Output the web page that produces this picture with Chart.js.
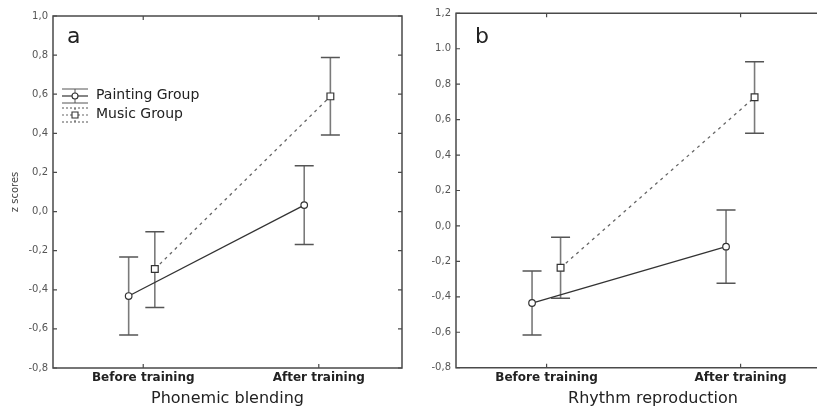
<!DOCTYPE html>
<html><head><meta charset="utf-8">
<script src="https://cdn.jsdelivr.net/npm/chart.js@4"></script>
<style>
html,body{margin:0;padding:0;background:#fff;overflow:hidden;width:817px;height:410px;position:relative;}
#wa{position:absolute;left:0;top:0;width:408px;height:410px;}
#wb{position:absolute;left:408px;top:0;width:448px;height:410px;}
canvas{display:block;}
</style></head><body>
<div id="wa"><canvas id="ca" width="408" height="410"></canvas></div>
<div id="wb"><canvas id="cb" width="448" height="410"></canvas></div>
<script>
// ---------- data ----------
const categories = ["Before training", "After training"];
const groups = ["Painting Group", "Music Group"];
const panelLetters = ["a", "b"];
const xTitles = ["Phonemic blending", "Rhythm reproduction"];
const yTitle = "z scores";

const yTickValuesA = [-0.8, -0.6, -0.4, -0.2, 0.0, 0.2, 0.4, 0.6, 0.8, 1.0];
const yTickLabelsA = ["-0,8", "-0,6", "-0,4", "-0,2", "0,0", "0,2", "0,4", "0,6", "0,8", "1,0"];
const yTickValuesB = [-0.8, -0.6, -0.4, -0.2, 0.0, 0.2, 0.4, 0.6, 0.8, 1.0, 1.2];
const yTickLabelsB = ["-0,8", "-0,6", "-0,4", "-0,2", "0,0", "0,2", "0,4", "0,6", "0,8", "1.0", "1,2"];

// Panel a: Phonemic blending
const blendPaintMean  = [-0.432, 0.033];
const blendPaintUpper = [-0.233, 0.234];
const blendPaintLower = [-0.631, -0.168];
const blendMusicMean  = [-0.294, 0.589];
const blendMusicUpper = [-0.103, 0.788];
const blendMusicLower = [-0.490, 0.391];

// Panel b: Rhythm reproduction
const rhythmPaintMean  = [-0.435, -0.117];
const rhythmPaintUpper = [-0.254, 0.090];
const rhythmPaintLower = [-0.615, -0.324];
const rhythmMusicMean  = [-0.236, 0.726];
const rhythmMusicUpper = [-0.064, 0.927];
const rhythmMusicLower = [-0.408, 0.523];

// ---------- styles ----------
Chart.defaults.font.family = "'DejaVu Sans', 'Liberation Sans', sans-serif";
const frameColor = "#4a4a4a";
const barColor = "#7a7a7a";
const capColor = "#555";
const paintStyle = {color: "#333", dash: [], width: 1.3, point: "circle", radius: 3.3};
const musicStyle = {color: "#666", dash: [3, 4], width: 1.3, point: "rect", radius: 4.8};

const overlay = {
  id: "overlay",
  beforeDatasetsDraw(chart) {
    const c = chart.options.plugins.overlay;
    const ctx = chart.ctx, xs = chart.scales.x, ys = chart.scales.y;
    ctx.save();
    c.bars.forEach((b) => {
      categories.forEach((cat, i) => {
        const px = xs.getPixelForValue(i + b.offset);
        const yt = ys.getPixelForValue(b.upper[i]);
        const yb = ys.getPixelForValue(b.lower[i]);
        ctx.strokeStyle = barColor; ctx.lineWidth = 1.6; ctx.setLineDash([]);
        ctx.beginPath(); ctx.moveTo(px, yt); ctx.lineTo(px, yb); ctx.stroke();
        ctx.strokeStyle = capColor; ctx.lineWidth = 1.5;
        ctx.beginPath();
        ctx.moveTo(px - 9.5, yt); ctx.lineTo(px + 9.5, yt);
        ctx.moveTo(px - 9.5, yb); ctx.lineTo(px + 9.5, yb);
        ctx.stroke();
      });
    });
    ctx.restore();
  },
  afterDraw(chart) {
    const c = chart.options.plugins.overlay;
    const ctx = chart.ctx, a = chart.chartArea, xs = chart.scales.x, ys = chart.scales.y;
    ctx.save();
    ctx.strokeStyle = frameColor; ctx.lineWidth = 1.5;
    ctx.beginPath();
    ctx.moveTo(a.left, a.top); ctx.lineTo(a.right, a.top); ctx.lineTo(a.right, a.bottom);
    ctx.lineTo(a.left, a.bottom); ctx.closePath(); ctx.stroke();
    // inner ticks
    ctx.lineWidth = 1.2;
    ctx.beginPath();
    c.yTicks.forEach((v) => {
      const py = ys.getPixelForValue(v);
      ctx.moveTo(a.left, py); ctx.lineTo(a.left + 4, py);
      ctx.moveTo(a.right, py); ctx.lineTo(a.right - 4, py);
    });
    categories.forEach((cat, i) => {
      const px = xs.getPixelForValue(i);
      ctx.moveTo(px, a.top); ctx.lineTo(px, a.top + 4);
      ctx.moveTo(px, a.bottom); ctx.lineTo(px, a.bottom - 4);
    });
    ctx.stroke();
    // panel letter
    ctx.fillStyle = "#222";
    ctx.font = "22px 'DejaVu Sans'";
    ctx.textBaseline = "alphabetic"; ctx.textAlign = "left";
    ctx.fillText(c.letter, c.letterX, c.letterY);
    // legend
    if (c.legend) {
      const styles = [paintStyle, musicStyle];
      const rows = [96, 115];
      groups.forEach((g, k) => {
        const cy = rows[k], x0 = 62, x1 = 88, cx = 75;
        const st = styles[k];
        ctx.strokeStyle = "#555"; ctx.lineWidth = 1;
        ctx.setLineDash(k === 1 ? [2, 2] : []);
        ctx.beginPath();
        ctx.moveTo(x0, cy - 7); ctx.lineTo(x1, cy - 7);
        ctx.moveTo(x0, cy + 7); ctx.lineTo(x1, cy + 7);
        ctx.moveTo(cx, cy - 7); ctx.lineTo(cx, cy + 7);
        ctx.stroke();
        ctx.strokeStyle = st.color; ctx.lineWidth = 1.2; ctx.setLineDash(st.dash.length ? [2, 2] : []);
        ctx.beginPath(); ctx.moveTo(x0, cy); ctx.lineTo(x1, cy); ctx.stroke();
        ctx.setLineDash([]);
        ctx.fillStyle = "#fff"; ctx.strokeStyle = "#333"; ctx.lineWidth = 1.1;
        ctx.beginPath();
        if (st.point === "circle") ctx.arc(cx, cy, 3, 0, Math.PI * 2);
        else ctx.rect(cx - 3, cy - 3, 6, 6);
        ctx.fill(); ctx.stroke();
        ctx.fillStyle = "#222";
        ctx.font = "14px 'DejaVu Sans'";
        ctx.textBaseline = "middle";
        ctx.fillText(g, 96, cy - 1);
      });
    }
    ctx.restore();
  }
};

function makeChart(id, cfg) {
  const mk = (label, st, mean, off) => ({
    label: label,
    data: categories.map((c, i) => ({x: i + off, y: mean[i]})),
    showLine: true,
    borderColor: st.color,
    borderWidth: st.width,
    borderDash: st.dash,
    pointStyle: st.point,
    pointRadius: st.radius,
    pointBackgroundColor: "#fff",
    pointBorderColor: "#333",
    pointBorderWidth: 1.2,
    fill: false
  });
  return new Chart(document.getElementById(id), {
    type: "scatter",
    data: {
      datasets: [
        mk(groups[0], paintStyle, cfg.paintMean, cfg.offsets[0]),
        mk(groups[1], musicStyle, cfg.musicMean, cfg.offsets[1])
      ]
    },
    options: {
      responsive: false,
      animation: false,
      events: [],
      layout: {padding: {top: cfg.top, right: cfg.padRight, bottom: 0, left: 0}},
      plugins: {
        legend: {display: false},
        tooltip: {enabled: false},
        overlay: {
          letter: cfg.letter, letterX: 67, letterY: 43, legend: cfg.legend,
          yTicks: cfg.yVals,
          bars: [
            {offset: cfg.offsets[0], upper: cfg.paintUpper, lower: cfg.paintLower},
            {offset: cfg.offsets[1], upper: cfg.musicUpper, lower: cfg.musicLower}
          ]
        }
      },
      scales: {
        x: {
          type: "linear", min: cfg.xMin, max: cfg.xMax,
          afterBuildTicks: (s) => { s.ticks = categories.map((c, i) => ({value: i})); },
          afterFit: (s) => { s.height = cfg.xh; },
          grid: {display: false, drawTicks: false},
          border: {display: false},
          ticks: {callback: (v) => categories[v], font: {size: 12, weight: "bold"}, color: "#222", padding: 3, maxRotation: 0, autoSkip: false},
          title: {display: true, text: cfg.xTitle, font: {size: 16}, color: "#222", padding: {top: 0, bottom: 1.5}}
        },
        y: {
          min: cfg.yVals[0], max: cfg.yVals[cfg.yVals.length - 1],
          afterBuildTicks: (s) => { s.ticks = cfg.yVals.map((v) => ({value: v})); },
          afterFit: (s) => { s.width = cfg.yw; },
          grid: {display: false, drawTicks: false},
          border: {display: false},
          ticks: {callback: (v, i) => cfg.yLabels[i], font: {size: 10}, color: "#555", padding: 5, autoSkip: false},
          title: {display: cfg.showYTitle, text: yTitle, font: {size: 10}, color: "#444", padding: {top: 9.5, bottom: 0}}
        }
      }
    },
    plugins: [overlay]
  });
}

makeChart("ca", {
  letter: panelLetters[0], legend: true, showYTitle: true, xTitle: xTitles[0],
  yVals: yTickValuesA, yLabels: yTickLabelsA,
  paintMean: blendPaintMean, paintUpper: blendPaintUpper, paintLower: blendPaintLower,
  musicMean: blendMusicMean, musicUpper: blendMusicUpper, musicLower: blendMusicLower,
  offsets: [-0.083, 0.066],
  xMin: -0.514, xMax: 1.474,
  top: 16, padRight: 6, xh: 42, yw: 53
});

makeChart("cb", {
  letter: panelLetters[1], legend: false, showYTitle: false, xTitle: xTitles[1],
  yVals: yTickValuesB, yLabels: yTickLabelsB,
  paintMean: rhythmPaintMean, paintUpper: rhythmPaintUpper, paintLower: rhythmPaintLower,
  musicMean: rhythmMusicMean, musicUpper: rhythmMusicUpper, musicLower: rhythmMusicLower,
  offsets: [-0.075, 0.072],
  xMin: -0.467, xMax: 1.564,
  top: 13.3, padRight: 4, xh: 42.3, yw: 48
});
</script>
</body></html>
